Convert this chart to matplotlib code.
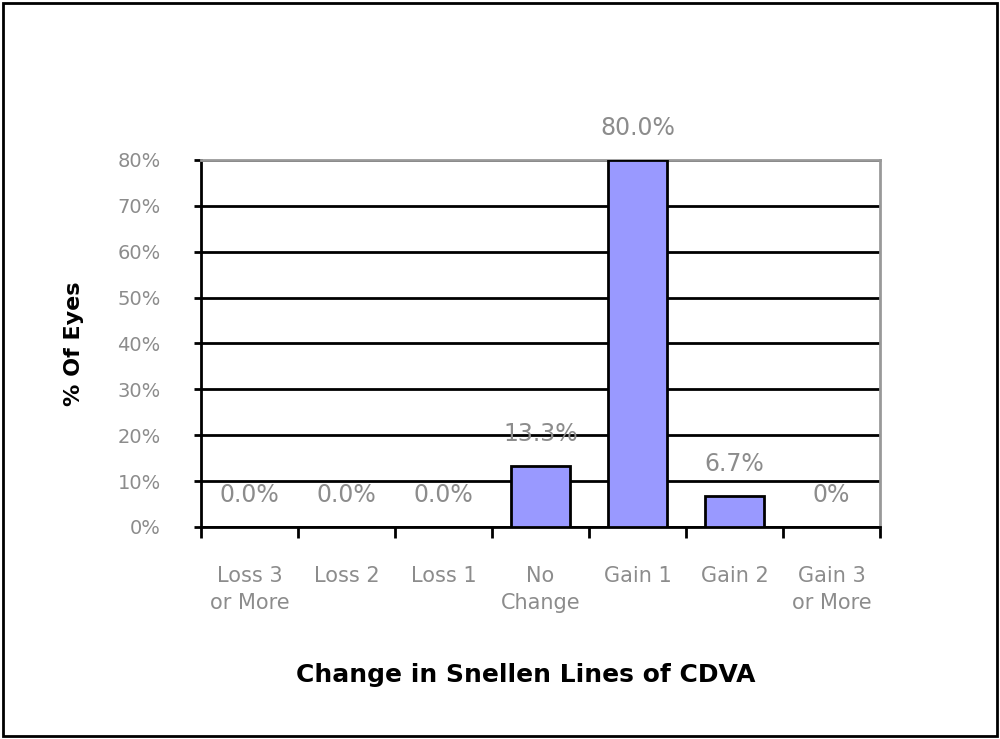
import matplotlib.pyplot as plt
import matplotlib.patches as patches
import numpy as np

categories = ["Loss 3\nor More", "Loss 2", "Loss 1", "No\nChange", "Gain 1", "Gain 2", "Gain 3\nor More"]
pct_eyes = [0.0, 0.0, 0.0, 13.3, 80.0, 6.7, 0.0]
bar_labels = ["0.0%", "0.0%", "0.0%", "13.3%", "80.0%", "6.7%", "0%"]
y_ticks = [0, 10, 20, 30, 40, 50, 60, 70, 80]

gray = "#8c8c8c"
plt.rcParams['font.family'] = ['DejaVu Sans']

fig = plt.figure(figsize=(10, 7.39), dpi=100)
ax = fig.add_axes([0.201, 0.287, 0.679, 0.4965])

x = np.arange(len(categories))
ax.bar(x, pct_eyes, width=0.61, color="#9999ff", edgecolor="black", linewidth=2, zorder=3)

for xi, v, lab in zip(x, pct_eyes, bar_labels):
    ax.annotate(lab, (xi, v), xytext=(0, 23), textcoords="offset points",
                ha="center", va="center", fontsize=17, color=gray)

ax.set_xlim(-0.5, len(categories) - 0.5)
ax.set_ylim(0, 80)
ax.set_yticks(y_ticks)
ax.set_yticklabels([f"{t}%" for t in y_ticks], fontsize=14, color=gray)
ax.yaxis.grid(True, color="black", linewidth=2, zorder=1)
ax.set_axisbelow(True)

ax.set_xticks(x)
ax.set_xticklabels(categories, fontsize=15, color=gray, linespacing=1.45)
ax.set_xticks(np.arange(len(categories) + 1) - 0.5, minor=True)
ax.tick_params(axis="x", which="major", length=0, pad=28)
ax.tick_params(axis="x", which="minor", length=8, width=2, direction="out")
ax.tick_params(axis="y", length=5, width=2, pad=24)

for s in ["left", "bottom"]:
    ax.spines[s].set_linewidth(2)
    ax.spines[s].set_color("black")
for s in ["top", "right"]:
    ax.spines[s].set_linewidth(2)
    ax.spines[s].set_color("#999999")

ax.set_xlabel("Change in Snellen Lines of CDVA", fontsize=18, fontweight="bold")
ax.xaxis.set_label_coords(0.478, -0.372)
ax.set_ylabel("% Of Eyes", fontsize=16, fontweight="bold", labelpad=24)

fig.patches.append(patches.Rectangle((0.003, 0.004), 0.994, 0.992, transform=fig.transFigure,
                                     fill=False, edgecolor="black", linewidth=2))

fig.savefig("out.png", dpi=100)
